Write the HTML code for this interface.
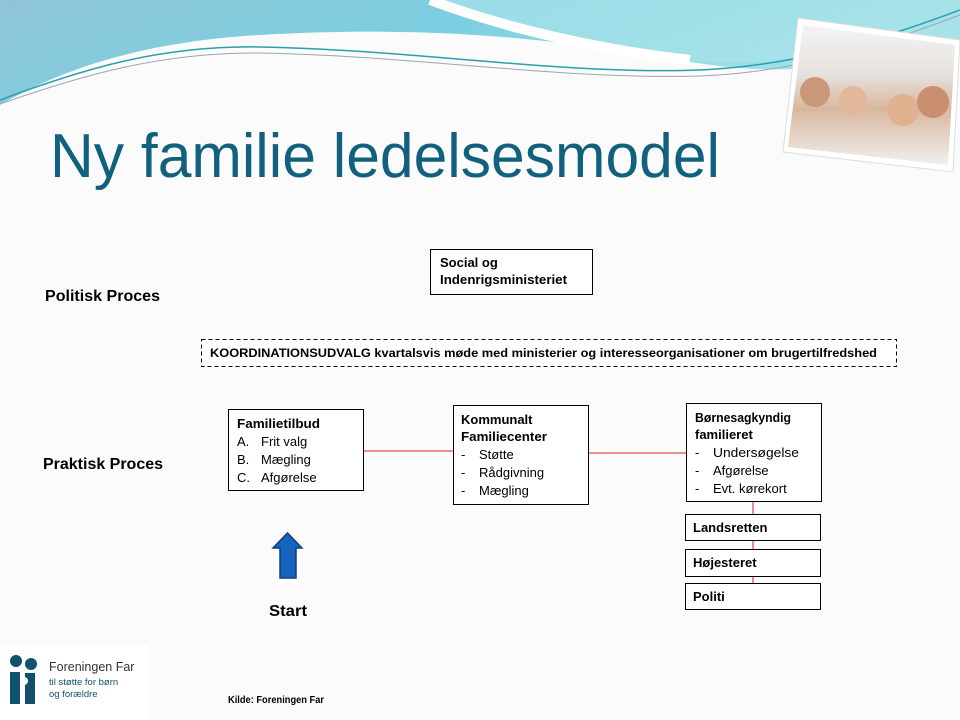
<!DOCTYPE html>
<html><head><meta charset="utf-8"><style>
html,body{margin:0;padding:0;background:#fbfbfb;}
svg{display:block;font-family:"Liberation Sans",sans-serif;}
</style></head><body>
<svg width="960" height="720" viewBox="0 0 960 720" xmlns="http://www.w3.org/2000/svg">
<defs>
<linearGradient id="sky" x1="0" y1="0" x2="1" y2="0.3">
<stop offset="0" stop-color="#8fc6d8"/><stop offset="0.5" stop-color="#7ccfe0"/><stop offset="1" stop-color="#a6e3ea"/></linearGradient>
<linearGradient id="ph" x1="0" y1="0" x2="0" y2="1">
<stop offset="0" stop-color="#f4f4f4"/><stop offset="0.35" stop-color="#e6e2de"/><stop offset="0.6" stop-color="#d9b79e"/><stop offset="1" stop-color="#f0efee"/></linearGradient>
</defs>
<rect width="960" height="720" fill="#fbfbfb"/>
<!-- top wave -->
<path d="M0,0 H960 V40 C900,55 820,75 740,68 C640,60 520,20 260,35 C140,42 60,70 0,105 Z" fill="url(#sky)"/>
<path d="M430,0 C500,20 600,60 720,62 C800,64 880,50 960,40 V0 Z" fill="#a8e2ea" opacity="0.7"/>
<path d="M430,0 C470,15 560,45 690,60" stroke="#fff" stroke-width="10" fill="none"/>
<path d="M0,100 C80,70 160,45 260,47 C420,50 560,75 700,70 C800,65 880,40 960,10" stroke="#2a9fb0" stroke-width="1.5" fill="none"/>
<path d="M0,104 C80,76 160,52 260,53 C420,56 560,80 700,76 C800,72 880,45 960,15" stroke="#9aa7ad" stroke-width="1" fill="none"/>
<!-- photo -->
<g>
<polygon points="798,18 960,40 953,172 783,152" fill="#fff" stroke="#ddd"/>
<polygon points="803,25 955,45 948,165 788,147" fill="url(#ph)"/>
<circle cx="815" cy="92" r="15" fill="#c9987a"/>
<circle cx="853" cy="100" r="14" fill="#e2b89a"/>
<circle cx="903" cy="110" r="16" fill="#e0b18f"/>
<circle cx="933" cy="102" r="16" fill="#c98f6e"/>
</g>
<!-- title -->
<text x="50" y="177" font-size="62" fill="#11607d" textLength="670" lengthAdjust="spacingAndGlyphs">Ny familie ledelsesmodel</text>
<!-- labels -->
<g font-weight="bold" fill="#000">
<text x="45" y="301" font-size="16" textLength="115" lengthAdjust="spacingAndGlyphs">Politisk Proces</text>
<text x="43" y="469" font-size="16" textLength="120" lengthAdjust="spacingAndGlyphs">Praktisk Proces</text>
<text x="269" y="616" font-size="16" textLength="38" lengthAdjust="spacingAndGlyphs">Start</text>
<text x="228" y="703" font-size="10" textLength="96" lengthAdjust="spacingAndGlyphs">Kilde: Foreningen Far</text>
</g>
<!-- connectors -->
<g stroke="#d42020" stroke-width="1">
<line x1="363" y1="451" x2="453" y2="451"/>
<line x1="588" y1="453" x2="686" y2="453"/>
<line x1="753" y1="501" x2="753" y2="610"/>
</g>
<!-- boxes -->
<g fill="#fff" stroke="#000" stroke-width="1">
<rect x="430.5" y="249.5" width="162" height="45"/>
<rect x="201.5" y="339.5" width="695" height="27" stroke-dasharray="4,3"/>
<rect x="228.5" y="409.5" width="135" height="81"/>
<rect x="453.5" y="405.5" width="135" height="99"/>
<rect x="686.5" y="403.5" width="135" height="98"/>
<rect x="685.5" y="514.5" width="135" height="26"/>
<rect x="685.5" y="549.5" width="135" height="27"/>
<rect x="685.5" y="583.5" width="135" height="26"/>
</g>
<g font-size="13" fill="#000">
<text x="440" y="267" font-weight="bold">Social og</text>
<text x="440" y="284" font-weight="bold" textLength="127" lengthAdjust="spacingAndGlyphs">Indenrigsministeriet</text>
<text x="210" y="357" font-weight="bold" font-size="12" textLength="667" lengthAdjust="spacingAndGlyphs">KOORDINATIONSUDVALG kvartalsvis møde med ministerier og interesseorganisationer om brugertilfredshed</text>
<text x="237" y="428" font-weight="bold" textLength="83" lengthAdjust="spacingAndGlyphs">Familietilbud</text>
<text x="237" y="446">A.</text><text x="261" y="446">Frit valg</text>
<text x="237" y="464">B.</text><text x="261" y="464">Mægling</text>
<text x="237" y="482">C.</text><text x="261" y="482">Afgørelse</text>
<text x="461" y="424" font-weight="bold">Kommunalt</text>
<text x="461" y="441" font-weight="bold" textLength="86" lengthAdjust="spacingAndGlyphs">Familiecenter</text>
<text x="461" y="459">-</text><text x="479" y="459">Støtte</text>
<text x="461" y="477">-</text><text x="479" y="477">Rådgivning</text>
<text x="461" y="495">-</text><text x="479" y="495">Mægling</text>
<text x="695" y="422" font-weight="bold" textLength="96" lengthAdjust="spacingAndGlyphs">Børnesagkyndig</text>
<text x="695" y="439" font-weight="bold">familieret</text>
<text x="695" y="457">-</text><text x="713" y="457" textLength="86" lengthAdjust="spacingAndGlyphs">Undersøgelse</text>
<text x="695" y="475">-</text><text x="713" y="475">Afgørelse</text>
<text x="695" y="493">-</text><text x="713" y="493">Evt. kørekort</text>
<text x="693" y="532" font-weight="bold">Landsretten</text>
<text x="693" y="567" font-weight="bold">Højesteret</text>
<text x="693" y="601" font-weight="bold">Politi</text>
</g>
<!-- arrow -->
<polygon points="287.5,533 302,548 296,548 296,578 280,578 280,548 273,548" fill="#1565c0" stroke="#0d3f7a" stroke-width="1.5"/>
<!-- logo -->
<rect x="0" y="645" width="148" height="75" fill="#fff"/>
<g fill="#12516e">
<circle cx="16" cy="661" r="6"/><circle cx="31" cy="664" r="6"/>
<rect x="10" y="672" width="10" height="32"/>
<rect x="25" y="673" width="10" height="31"/>
</g>
<circle cx="24" cy="681" r="4" fill="#fff"/>
<text x="49" y="671" font-size="12.5" fill="#333">Foreningen Far</text>
<text x="49" y="685" font-size="9.5" fill="#12516e">til støtte for børn</text>
<text x="49" y="697" font-size="9.5" fill="#12516e">og forældre</text>
</svg>
</body></html>
